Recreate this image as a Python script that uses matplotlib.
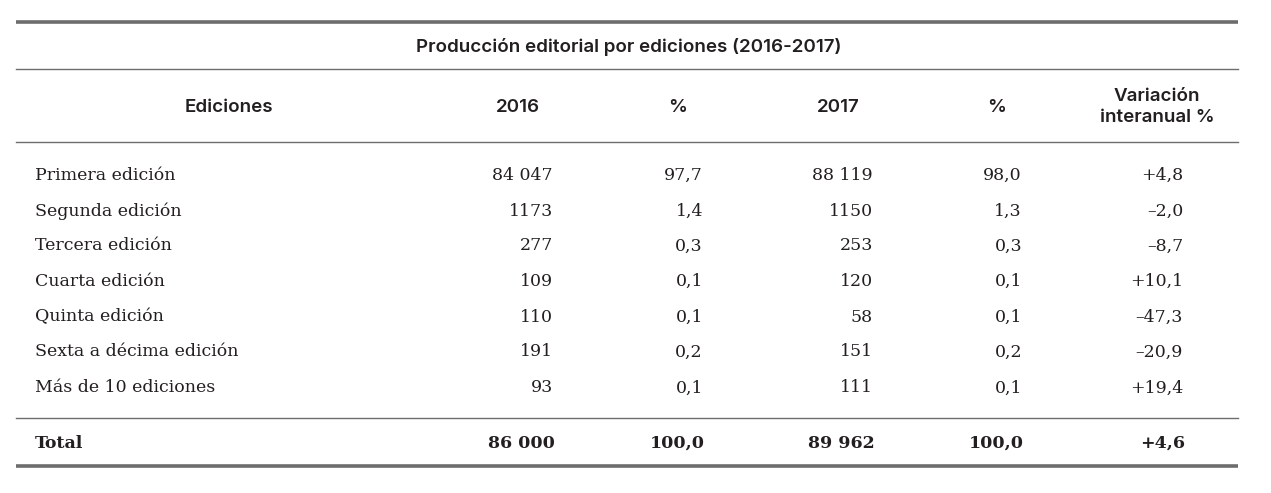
import matplotlib.pyplot as plt

# Table content
title = "Producción editorial por ediciones (2016-2017)"
headers = ["Ediciones", "2016", "%", "2017", "%", "Variación\ninteranual %"]
ediciones = ["Primera edición", "Segunda edición", "Tercera edición", "Cuarta edición",
             "Quinta edición", "Sexta a décima edición", "Más de 10 ediciones"]
v2016 = ["84 047", "1173", "277", "109", "110", "191", "93"]
p2016 = ["97,7", "1,4", "0,3", "0,1", "0,1", "0,2", "0,1"]
v2017 = ["88 119", "1150", "253", "120", "58", "151", "111"]
p2017 = ["98,0", "1,3", "0,3", "0,1", "0,1", "0,2", "0,1"]
variacion = ["+4,8", "\u20132,0", "\u20138,7", "+10,1", "\u201347,3", "\u201320,9", "+19,4"]
total = ["Total", "86 000", "100,0", "89 962", "100,0", "+4,6"]

W, H = 1271, 493
fig = plt.figure(figsize=(W / 100, H / 100), dpi=100)
ax = fig.add_axes([0, 0, 1, 1])
ax.set_xlim(0, W)
ax.set_ylim(H, 0)
ax.axis("off")

line_col = "#6d6d6d"
txt_col = "#231f20"
x0, x1 = 16, 1238

# horizontal rules
ax.plot([x0, x1], [22, 22], color=line_col, lw=2.6, solid_capstyle="butt")
ax.plot([x0, x1], [69, 69], color=line_col, lw=1.0)
ax.plot([x0, x1], [142, 142], color=line_col, lw=1.0)
ax.plot([x0, x1], [418, 418], color=line_col, lw=1.0)
ax.plot([x0, x1], [465.5, 465.5], color=line_col, lw=2.6, solid_capstyle="butt")

sans = "Inter"
serif = "DejaVu Serif"

ax.text(629, 47, title, ha="center", va="center", fontsize=13.5,
        fontweight="semibold", family=sans, color=txt_col)

head_x = [229, 518, 678, 838, 997, 1157]
for hx, h in zip(head_x, headers):
    ax.text(hx, 107, h, ha="center", va="center", fontsize=13.5, fontweight="semibold",
            family=sans, color=txt_col, linespacing=1.25)

# column anchors for body (right aligned numbers)
label_x = 35
num_x = [553, 703, 873, 1022, 1183]
row_y = [175, 211, 246, 281, 317, 352, 388]

for i, y in enumerate(row_y):
    ax.text(label_x, y, ediciones[i], ha="left", va="center", fontsize=12.5,
            family=serif, color=txt_col)
    vals = [v2016[i], p2016[i], v2017[i], p2017[i], variacion[i]]
    for nx, v in zip(num_x, vals):
        ax.text(nx, y, v, ha="right", va="center", fontsize=12.5, family=serif, color=txt_col)

ax.text(label_x, 443, total[0], ha="left", va="center", fontsize=12.5, fontweight="bold",
        family=serif, color=txt_col)
for nx, v in zip(num_x, total[1:]):
    ax.text(nx + 2, 443, v, ha="right", va="center", fontsize=12.5, fontweight="bold",
            family=serif, color=txt_col)

fig.savefig("out.png", dpi=100, facecolor="white")
